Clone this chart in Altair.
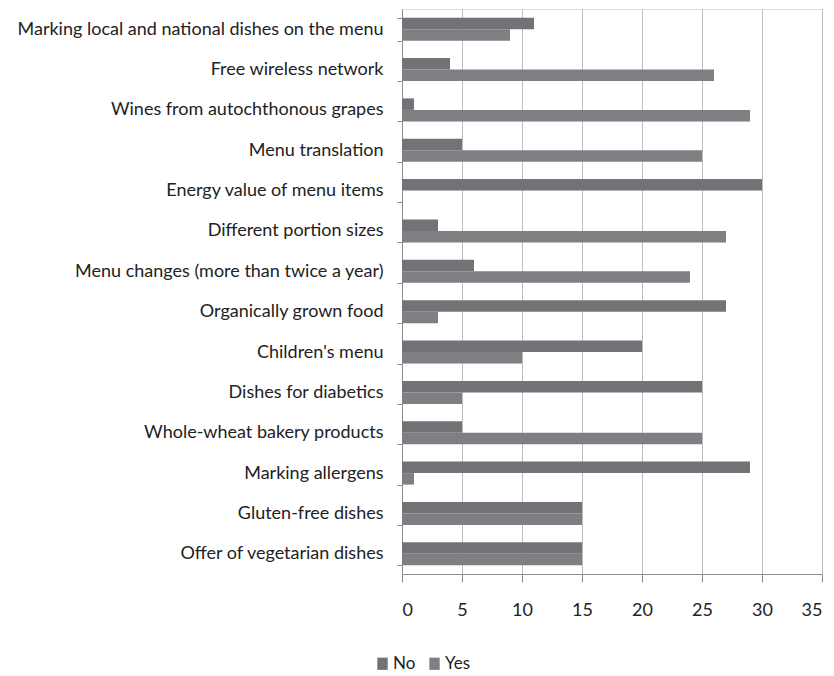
import altair as alt
import pandas as pd

# Menu features, listed top to bottom
features = [
    "Marking local and national dishes on the menu",
    "Free wireless network ",
    "Wines from autochthonous grapes",
    "Menu translation",
    "Energy value of menu items",
    "Different portion sizes",
    "Menu changes (more than twice a year)",
    "Organically grown food",
    "Children's menu",
    "Dishes for diabetics",
    "Whole-wheat bakery products",
    "Marking allergens ",
    "Gluten-free dishes",
    "Offer of vegetarian dishes",
]
no_counts = [11, 4, 1, 5, 30, 3, 6, 27, 20, 25, 5, 29, 15, 15]
yes_counts = [9, 26, 29, 25, 0, 27, 24, 3, 10, 5, 25, 1, 15, 15]
answers = ["No", "Yes"]
answer_colors = ["#727377", "#7e7f83"]
x_ticks = [0, 5, 10, 15, 20, 25, 30, 35]

rows = []
for f, n, y in zip(features, no_counts, yes_counts):
    rows.append({"feature": f, "answer": "No", "count": n})
    rows.append({"feature": f, "answer": "Yes", "count": y})
df = pd.DataFrame(rows)

FONT = "Lato"
# upright rectangle used as the legend swatch
rect_path = "M-0.85,-1H0.85V1H-0.85Z"

chart = (
    alt.Chart(df)
    .mark_bar()
    .encode(
        x=alt.X(
            "count:Q",
            scale=alt.Scale(domain=[0, 35], nice=False),
            axis=alt.Axis(
                values=x_ticks,
                title=None,
                grid=True,
                gridColor="#bdbdbd",
                domainColor="#8c8c8c",
                tickColor="#8c8c8c",
                tickSize=8,
                labelPadding=19,
                labelFontSize=18,
                labelFont=FONT,
                labelColor="#222222",
            ),
        ),
        y=alt.Y(
            "feature:N",
            sort=features,
            scale=alt.Scale(paddingInner=0.43, paddingOuter=0.215),
            axis=alt.Axis(
                title=None,
                tickBand="extent",
                domainColor="#8c8c8c",
                tickColor="#8c8c8c",
                tickSize=5,
                labelPadding=14,
                labelFontSize=18,
                labelFont=FONT,
                labelColor="#222222",
                labelLimit=400,
            ),
        ),
        yOffset=alt.YOffset("answer:N", sort=answers),
        color=alt.Color(
            "answer:N",
            sort=answers,
            scale=alt.Scale(domain=answers, range=answer_colors),
            legend=alt.Legend(
                title=None,
                orient="none",
                direction="horizontal",
                legendX=-28,
                legendY=646,
                symbolType=rect_path,
                symbolSize=150,
                symbolStrokeWidth=0,
                symbolOpacity=1,
                labelFontSize=17,
                labelFont=FONT,
                labelColor="#222222",
                labelOffset=2,
                columnPadding=10,
            ),
        ),
    )
    .properties(
        width=420,
        height=565,
        autosize=alt.AutoSizeParams(type="none"),
        padding={"left": 402, "top": 9, "right": 12, "bottom": 102},
    )
    .configure_view(stroke=None)
    .configure(background="white")
)

chart.save("out.html", embed_options={"renderer": "svg", "actions": False})
